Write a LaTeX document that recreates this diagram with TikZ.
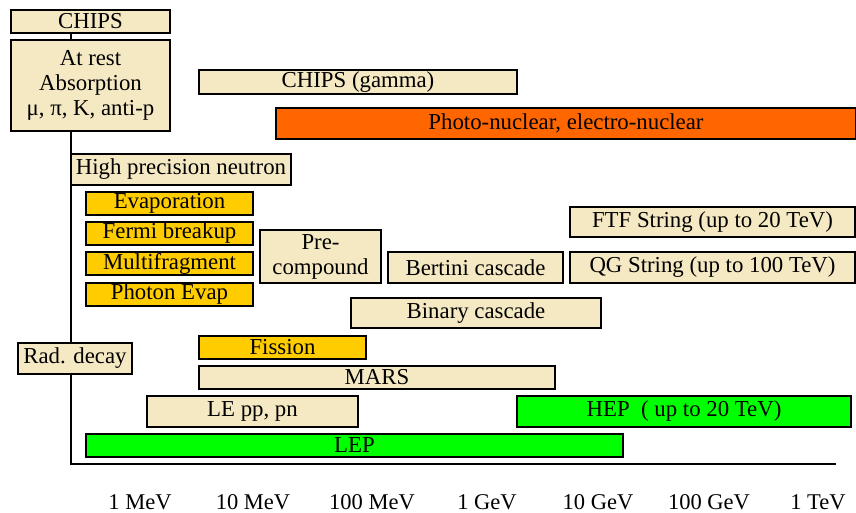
\documentclass[tikz,border=0pt]{standalone}
\usepackage{fontspec}
\setmainfont{Liberation Serif}
\newfontfamily\timesfont{Liberation Serif}
\usetikzlibrary{arrows.meta}

\definecolor{beige}{RGB}{245,233,195}
\definecolor{gold}{RGB}{255,204,0}
\definecolor{orangered}{RGB}{255,102,0}
\definecolor{brightgreen}{RGB}{0,255,0}

\tikzset{
  model/.style={draw, line width=1.7pt, inner sep=0pt,
    font=\timesfont\fontsize{22.8}{25}\selectfont},
  chipsbox/.style={model, fill=beige},
  deexbox/.style={model, fill=gold},
  photobox/.style={model, fill=orangered},
  hepbox/.style={model, fill=brightgreen},
  axislabel/.style={font=\timesfont\fontsize{22.5}{24}\selectfont}
}

\begin{document}
\begin{tikzpicture}[x=1pt, y=-1pt]
            \useasboundingbox (0,0) rectangle (856,513);
            \fill[white] (0,0) rectangle (856,513);

            % energy axis
            \coordinate (origin) at (71,464);
            \coordinate (axisend) at (836,464);

            \node[chipsbox, minimum width=159pt, minimum height=23pt] (chips) at (90.5,21.5) {CHIPS};
            \node[chipsbox, align=center, minimum width=159pt, minimum height=91pt] (rest) at (90.5,85.5) {At rest\\Absorption\\μ, π, K, anti-p};

            \draw[line width=1.6pt] (chips.south -| origin) -- (rest.north -| origin);
            \draw[line width=1.6pt] (rest.south -| origin) -- (origin) -- (axisend);

            \node[chipsbox, minimum width=318pt, minimum height=24pt] (gamma) at (358,82) {CHIPS (gamma)};
            \node[photobox, minimum width=580pt, minimum height=31pt] (photo) at (566,123.5) {Photo-nuclear, electro-nuclear};
            \node[chipsbox, minimum width=220pt, minimum height=31pt] (neutron) at (181,169.5) {High precision neutron};

            \node[deexbox, minimum width=167pt, minimum height=23pt] (evap) at (169.5,203.5) {Evaporation};
            \node[deexbox, minimum width=167pt, minimum height=23pt] (fermi) at (169.5,233.5) {Fermi breakup};
            \node[deexbox, minimum width=167pt, minimum height=23pt] (multi) at (169.5,263.5) {Multifragment};
            \node[deexbox, minimum width=167pt, minimum height=23pt] (photev) at (169.5,294.5) {Photon Evap};

            \node[chipsbox, align=center, minimum width=121pt, minimum height=53pt] (precomp) at (320.5,256.5) {Pre-\\compound};
            \node[chipsbox, minimum width=175pt, minimum height=31pt] (bertini) at (475.5,267.5) {Bertini cascade};
            \node[chipsbox, minimum width=285pt, minimum height=30pt] (ftf) at (712.5,222) {FTF String (up to 20 TeV)};
            \node[chipsbox, minimum width=285pt, minimum height=31pt] (qgs) at (712.5,267.5) {QG String (up to 100 TeV)};
            \node[chipsbox, minimum width=250pt, minimum height=30pt] (binary) at (476,313) {Binary cascade};

            \node[chipsbox, minimum width=114pt, minimum height=31pt] (raddecay) at (75,358.5) {Rad. decay};
            \node[deexbox, minimum width=167pt, minimum height=23pt] (fission) at (282.5,347.5) {Fission};
            \node[chipsbox, minimum width=356pt, minimum height=23pt] (mars) at (377,377.5) {MARS};
            \node[chipsbox, minimum width=211pt, minimum height=31pt] (lepp) at (252.5,411.5) {LE pp, pn};
            \node[hepbox, minimum width=334pt, minimum height=31pt] (hep) at (684,411.5) {HEP\ \ ( up to 20 TeV)};
            \node[hepbox, minimum width=537pt, minimum height=23pt] (lep) at (354.5,445.5) {LEP};

            \foreach \x/\lab in {140/1 MeV, 253/10 MeV, 372/100 MeV, 487/1 GeV, 598/10 GeV, 709/100 GeV, 818/1 TeV} {
                \node[axislabel] (e\x) at (\x,502) {\lab};
            }
        \end{tikzpicture}
\end{document}
